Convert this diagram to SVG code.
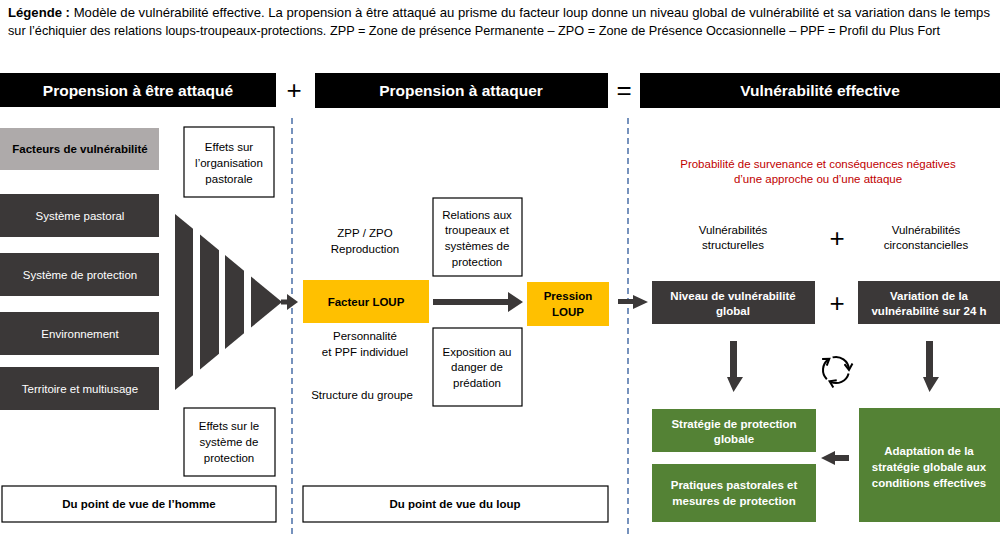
<svg xmlns="http://www.w3.org/2000/svg" width="1000" height="537" viewBox="0 0 1000 537">
<style>
text{font-family:"Liberation Sans",Arial,sans-serif;}
.hdr{fill:#000;}
.ht{fill:#fff;font-weight:bold;font-size:15.5px;text-anchor:middle;}
.dark{fill:#3b3838;}
.wt{fill:#fff;font-size:11.5px;text-anchor:middle;}
.wb{fill:#fff;font-size:11.5px;font-weight:bold;text-anchor:middle;}
.bt{fill:#000;font-size:11.5px;text-anchor:middle;}
.bb{fill:#000;font-size:11.5px;font-weight:bold;text-anchor:middle;}
.box{fill:#fff;stroke:#000;stroke-width:1.2;}
.yel{fill:#ffc000;}
.grn{fill:#548235;}
.dash{stroke:#4a6fa8;stroke-width:1.5;stroke-dasharray:6 4;fill:none;}
.op{font-size:26px;fill:#000;text-anchor:middle;}
.arr{fill:#3b3838;}
</style>
<defs>
<marker id="chev" viewBox="0 0 10 10" refX="6" refY="5" markerWidth="5" markerHeight="5" orient="auto">
<path d="M1,1 L7,5 L1,9" fill="none" stroke="#000" stroke-width="2"/>
</marker>
</defs>

<g id="legend">
<text x="8" y="17" font-size="13" textLength="982" lengthAdjust="spacingAndGlyphs"><tspan font-weight="bold">Légende :</tspan> Modèle de vulnérabilité effective. La propension à être attaqué au prisme du facteur loup donne un niveau global de vulnérabilité et sa variation dans le temps</text>
<text x="8" y="35" font-size="13" textLength="932" lengthAdjust="spacingAndGlyphs">sur l’échiquier des relations loups-troupeaux-protections. ZPP = Zone de présence Permanente – ZPO = Zone de Présence Occasionnelle – PPF = Profil du Plus Fort</text>
</g>

<g id="headers">
<rect class="hdr" x="0" y="73" width="276" height="34"/>
<text class="ht" x="138" y="96">Propension à être attaqué</text>
<text class="op" x="294" y="99">+</text>
<rect class="hdr" x="315" y="73" width="293" height="35"/>
<text class="ht" x="461" y="96">Propension à attaquer</text>
<text class="op" x="624" y="99">=</text>
<rect class="hdr" x="640" y="73" width="360" height="35"/>
<text class="ht" x="820" y="96">Vulnérabilité effective</text>
</g>

<g id="separators">
<line class="dash" x1="292" y1="118" x2="292" y2="537"/>
<line class="dash" x1="628" y1="118" x2="628" y2="537"/>
</g>

<g id="facteurs-vulnerabilite">
<rect x="0" y="128" width="159" height="42" fill="#aeaaaa"/>
<text class="bb" x="80" y="153" fill="#222">Facteurs de vulnérabilité</text>
</g>
<g id="systeme-pastoral">
<rect class="dark" x="0" y="194" width="159" height="43"/>
<text class="wt" x="80" y="220">Système pastoral</text>
</g>
<g id="systeme-protection">
<rect class="dark" x="0" y="253" width="159" height="43"/>
<text class="wt" x="80" y="279">Système de protection</text>
</g>
<g id="environnement">
<rect class="dark" x="0" y="312" width="159" height="43"/>
<text class="wt" x="80" y="338">Environnement</text>
</g>
<g id="territoire">
<rect class="dark" x="0" y="367" width="159" height="43"/>
<text class="wt" x="80" y="393">Territoire et multiusage</text>
</g>

<g id="effets-organisation">
<rect class="box" x="184" y="127" width="90" height="70"/>
<text class="bt" x="229" y="151">Effets sur</text>
<text class="bt" x="229" y="167">l’organisation</text>
<text class="bt" x="229" y="183">pastorale</text>
</g>
<g id="effets-systeme">
<rect class="box" x="184" y="408" width="91" height="68"/>
<text class="bt" x="229" y="430">Effets sur le</text>
<text class="bt" x="229" y="446">système de</text>
<text class="bt" x="229" y="462">protection</text>
</g>

<g id="funnel">
<polygon class="arr" points="175,214 193,228.8 193,375.2 175,390"/>
<polygon class="arr" points="200,234.6 219,250.2 219,353.8 200,369.4"/>
<polygon class="arr" points="225,255.1 244,270.7 244,333.3 225,348.9"/>
<polygon class="arr" points="251,276.5 282,302 251,327.5"/>
</g>

<g id="point-vue-homme">
<rect class="box" x="2" y="486" width="274" height="36"/>
<text class="bb" x="139" y="508">Du point de vue de l’homme</text>
</g>
<g id="point-vue-loup">
<rect class="box" x="303" y="486" width="305" height="36"/>
<text class="bb" x="455" y="508">Du point de vue du loup</text>
</g>

<g id="labels-loup">
<text class="bt" x="365" y="237">ZPP / ZPO</text>
<text class="bt" x="365" y="253">Reproduction</text>
<text class="bt" x="365" y="340">Personnalité</text>
<text class="bt" x="365" y="356">et PPF individuel</text>
<text class="bt" x="362" y="399">Structure du groupe</text>
</g>

<g id="facteur-loup">
<rect class="yel" x="303" y="280" width="126" height="43"/>
<text class="bb" x="366" y="306">Facteur LOUP</text>
</g>
<g id="relations">
<rect class="box" x="433" y="198" width="89" height="78"/>
<text class="bt" x="477" y="219">Relations aux</text>
<text class="bt" x="477" y="234">troupeaux et</text>
<text class="bt" x="477" y="250">systèmes de</text>
<text class="bt" x="477" y="266">protection</text>
</g>
<g id="exposition">
<rect class="box" x="433" y="328" width="89" height="78"/>
<text class="bt" x="477" y="356">Exposition au</text>
<text class="bt" x="477" y="371">danger de</text>
<text class="bt" x="477" y="387">prédation</text>
</g>
<g id="pression-loup">
<rect class="yel" x="527" y="282" width="82" height="44"/>
<text class="bb" x="568" y="300">Pression</text>
<text class="bb" x="568" y="316">LOUP</text>
</g>

<g id="red-text">
<text x="818" y="168" font-size="11.5" fill="#c00000" text-anchor="middle">Probabilité de survenance et conséquences négatives</text>
<text x="818" y="183" font-size="11.5" fill="#c00000" text-anchor="middle">d’une approche ou d’une attaque</text>
</g>
<g id="vuln-labels">
<text class="bt" x="733" y="234">Vulnérabilités</text>
<text class="bt" x="733" y="249">structurelles</text>
<text class="op" x="837" y="247">+</text>
<text class="bt" x="926" y="234">Vulnérabilités</text>
<text class="bt" x="926" y="249">circonstancielles</text>
</g>

<g id="niveau">
<rect class="dark" x="652" y="281" width="163" height="43"/>
<text class="wb" x="733" y="300">Niveau de vulnérabilité</text>
<text class="wb" x="733" y="315">global</text>
</g>
<text class="op" x="837" y="312">+</text>
<g id="variation">
<rect class="dark" x="858" y="281" width="142" height="43"/>
<text class="wb" x="929" y="300">Variation de la</text>
<text class="wb" x="929" y="315">vulnérabilité sur 24 h</text>
</g>

<g id="cycle" fill="none" stroke="#000" stroke-width="2">
<path d="M832.6,357.4 A13,13 0 0 1 848.9,368.9" marker-end="url(#chev)"/>
<path d="M848.6,373.4 A13,13 0 0 1 830.5,381.8" marker-end="url(#chev)"/>
<path d="M826.8,379.2 A13,13 0 0 1 828.5,359.4" marker-end="url(#chev)"/>
</g>

<g id="strategie">
<rect class="grn" x="652" y="409" width="164" height="43"/>
<text class="wb" x="734" y="428">Stratégie de protection</text>
<text class="wb" x="734" y="443">globale</text>
</g>
<g id="pratiques">
<rect class="grn" x="652" y="464" width="164" height="58"/>
<text class="wb" x="734" y="489">Pratiques pastorales et</text>
<text class="wb" x="734" y="505">mesures de protection</text>
</g>
<g id="adaptation">
<rect class="grn" x="859" y="408" width="141" height="114"/>
<text class="wb" x="929" y="455">Adaptation de la</text>
<text class="wb" x="929" y="471">stratégie globale aux</text>
<text class="wb" x="929" y="487">conditions effectives</text>
</g>

<g id="connectors">
<path class="arr" d="M281,299.5 L287,299.5 L287,294 L298,302 L287,310 L287,304.5 L281,304.5 Z"/>
<path class="arr" d="M433,299 L508,299 L508,292 L523,302 L508,312 L508,305 L433,305 Z"/>
<path class="arr" d="M618,299 L633,299 L633,295 L648,302 L633,309 L633,304 L618,304 Z"/>
<path class="arr" d="M730,341 L737,341 L737,377 L743,377 L733.5,392 L727,377 L730,377 Z"/>
<path class="arr" d="M926,341 L933,341 L933,377 L939,377 L929.5,392 L923,377 L926,377 Z"/>
<path class="arr" d="M849,455 L835,455 L835,451 L821,458 L835,465 L835,461 L849,461 Z"/>
</g>
</svg>
